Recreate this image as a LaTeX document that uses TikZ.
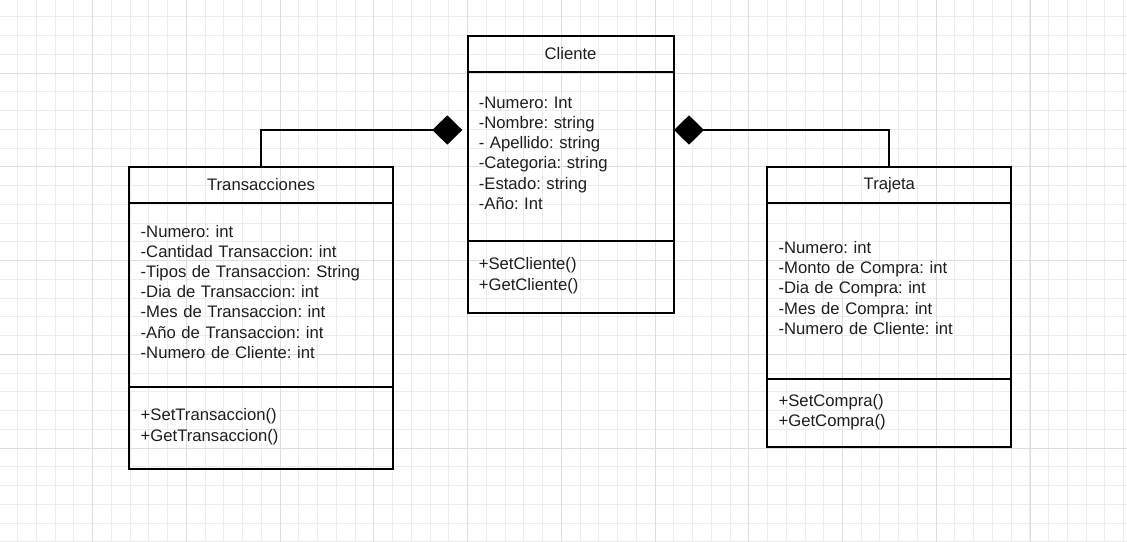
\documentclass[tikz,border=0pt]{standalone}
\usepackage{fontspec}
\setmainfont{Liberation Sans}
\usetikzlibrary{arrows.meta,positioning}

\definecolor{gridminor}{RGB}{236,236,236}
\definecolor{gridmajor}{RGB}{222,222,222}
\definecolor{umltext}{RGB}{30,30,30}

\frenchspacing
\tikzset{every picture/.style={line width=1.5pt}}
\tikzset{
  umlfont/.style={font=\fontsize{12.5}{15.15}\selectfont, text=umltext},
  classhead/.style={draw, rectangle, inner sep=0pt, outer sep=0pt, umlfont, minimum height=26.6pt, minimum width=#1},
  classpart/.style n args={2}{draw, rectangle, inner xsep=8.5pt, inner ysep=0pt, outer sep=0pt, align=left, umlfont, text width=#1, minimum height=#2, execute at end node={\\[-10.65pt]\mbox{}}},
  compos/.style={-{Diamond[length=22.5pt,width=22pt]}},
  minorline/.style={draw=gridminor, line width=0.75pt},
  majorline/.style={draw=gridmajor, line width=0.75pt},
}

\begin{document}
\begin{tikzpicture}[x=0.75pt,y=0.75pt,yscale=-1,xscale=1]
\useasboundingbox (0,0) rectangle (1127,542);
\fill[white] (0,0) rectangle (1127,542);

%Grid
\foreach \i in {0,...,59}{
  \draw[minorline] ({17.7+18.745*\i},0) -- ({17.7+18.745*\i},542);
}
\foreach \j in {0,...,28}{
  \draw[minorline] (0,{16.9+18.745*\j}) -- (1127,{16.9+18.745*\j});
}
\foreach \i in {0,...,10}{
  \draw[majorline] ({92.7+93.73*\i},0) -- ({92.7+93.73*\i},542);
}
\foreach \j in {0,...,4}{
  \draw[majorline] (0,{73.1+93.73*\j}) -- (1127,{73.1+93.73*\j});
}

% Class Cliente
\node[classhead=154.5pt] (cli) at (570.5,53.8) {Cliente};
\node[classpart={137.5pt}{126.75pt}, below=0pt of cli] (cliattr) {-Numero: Int\\-Nombre: string\\- Apellido: string\\-Categoria: string\\-Estado: string\\-Año: Int};
\node[classpart={137.5pt}{54.5pt}, below=0pt of cliattr] (climeth) {+SetCliente()\\+GetCliente()};

% Class Transacciones
\node[classhead=197.5pt] (trans) at (261,185) {Transacciones};
\node[classpart={180.5pt}{138pt}, below=0pt of trans] (transattr) {-Numero: int\\-Cantidad Transaccion: int\\-Tipos de Transaccion: String\\-Dia de Transaccion: int\\-Mes de Transaccion: int\\-Año de Transaccion: int\\-Numero de Cliente: int};
\node[classpart={180.5pt}{61.7pt}, below=0pt of transattr] (transmeth) {+SetTransaccion()\\+GetTransaccion()};

% Class Trajeta
\node[classhead=183pt] (traj) at (889.3,185) {Trajeta};
\node[classpart={166pt}{132.2pt}, below=0pt of traj] (trajattr) {-Numero: int\\-Monto de Compra: int\\-Dia de Compra: int\\-Mes de Compra: int\\-Numero de Cliente: int};
\node[classpart={166pt}{51.2pt}, below=0pt of trajattr] (trajmeth) {+SetCompra()\\+GetCompra()};

%Composition links
\coordinate (cliL) at (462.3,130);
\coordinate (cliR) at (674,130);
\draw[compos] (trans.north) |- (cliL);
\draw[compos] (traj.north) |- (cliR);

\end{tikzpicture}
\end{document}
